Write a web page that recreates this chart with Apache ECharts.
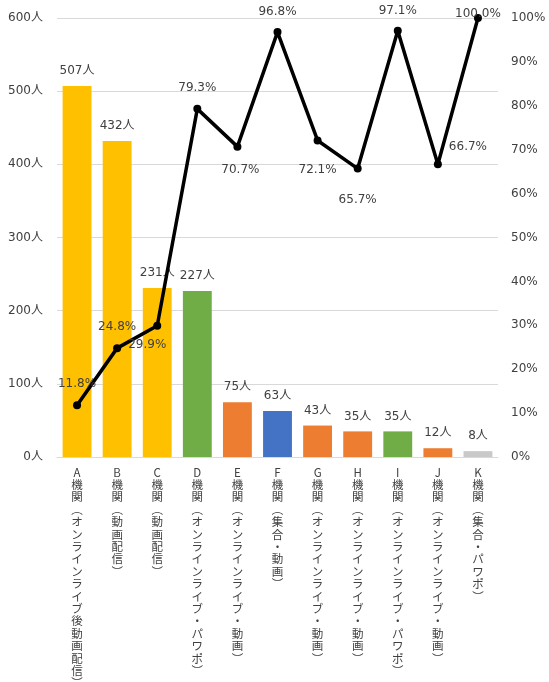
<!DOCTYPE html>
<html>
<head>
<meta charset="utf-8">
<script src="https://cdn.jsdelivr.net/npm/echarts@6/dist/echarts.min.js"></script>
<style>
  html, body { margin: 0; padding: 0; background: #fff; }
  #chart { width: 549px; height: 682px; }
</style>
</head>
<body>
<div id="chart"></div>
<script>
// 機関ごとの参加人数と割合
const categories = [
  'A機関（オンラインライブ後動画配信）',
  'B機関（動画配信）',
  'C機関（動画配信）',
  'D機関（オンラインライブ・パワポ）',
  'E機関（オンラインライブ・動画）',
  'F機関（集合・動画）',
  'G機関（オンラインライブ・動画）',
  'H機関（オンラインライブ・動画）',
  'I機関（オンラインライブ・パワポ）',
  'J機関（オンラインライブ・動画）',
  'K機関（集合・パワポ）'
];
const people = [507, 432, 231, 227, 75, 63, 43, 35, 35, 12, 8];
const rates = [11.8, 24.8, 29.9, 79.3, 70.7, 96.8, 72.1, 65.7, 97.1, 66.7, 100.0];
const leftTicks = [0, 100, 200, 300, 400, 500, 600];
const rightTicks = [0, 10, 20, 30, 40, 50, 60, 70, 80, 90, 100];

// 棒の色 (形式ごと)
const barColors = ['#FFC000', '#FFC000', '#FFC000', '#70AD47', '#ED7D31', '#4472C4',
  '#ED7D31', '#ED7D31', '#70AD47', '#ED7D31', '#C9C9C9'];
// 折れ線ラベルの位置
const rateLabelPos = [
  { position: 'top', offset: [0, -6] },
  { position: 'top', offset: [0, -6] },
  { position: 'bottom', offset: [-10, 4] },
  { position: 'top', offset: [0, -6] },
  { position: 'bottom', offset: [3, 8] },
  { position: 'top', offset: [0, -5] },
  { position: 'bottom', offset: [0, 14] },
  { position: 'bottom', offset: [0, 16] },
  { position: 'top', offset: [0, -5] },
  { position: 'right', offset: [2, -17] },
  { position: 'inside', offset: [0, -4] }
];

const FONT = '"DejaVu Sans", "Noto Sans CJK JP", sans-serif';
const TXT = '#404040';

function vertical(s) {
  return s.replace('（', '︵').replace('）', '︶').split('').join('\n');
}

const chart = echarts.init(document.getElementById('chart'), null, { renderer: 'canvas' });
chart.setOption({
  animation: false,
  textStyle: { fontFamily: FONT },
  grid: { left: 57, right: 51, top: 18, bottom: 225, containLabel: false, outerBoundsMode: 'none' },
  xAxis: {
    type: 'category',
    data: categories,
    axisLine: { lineStyle: { color: '#D9D9D9' } },
    axisTick: { show: false },
    axisLabel: {
      interval: 0,
      margin: 9,
      verticalAlign: 'top',
      fontSize: 11.5,
      lineHeight: 12.4,
      color: TXT,
      fontFamily: '"Noto Sans CJK JP", sans-serif',
      formatter: vertical
    }
  },
  yAxis: [
    {
      type: 'value',
      min: leftTicks[0],
      max: leftTicks[leftTicks.length - 1],
      interval: 100,
      axisLine: { show: false },
      axisTick: { show: false },
      splitLine: { lineStyle: { color: '#D9D9D9' } },
      axisLabel: { margin: 14, fontSize: 12, color: TXT, fontFamily: FONT, formatter: v => v + '人' }
    },
    {
      type: 'value',
      min: rightTicks[0],
      max: rightTicks[rightTicks.length - 1],
      interval: 10,
      axisLine: { show: false },
      axisTick: { show: false },
      splitLine: { show: false },
      axisLabel: { margin: 13, fontSize: 12, color: TXT, fontFamily: FONT, formatter: v => v + '%' }
    }
  ],
  series: [
    {
      type: 'bar',
      yAxisIndex: 0,
      barWidth: '72%',
      data: people.map((v, i) => ({ value: v, itemStyle: { color: barColors[i] } })),
      label: {
        show: true,
        position: 'top',
        distance: 9,
        fontSize: 12,
        color: TXT,
        fontFamily: FONT,
        formatter: p => p.value + '人'
      }
    },
    {
      type: 'line',
      yAxisIndex: 1,
      data: rates.map((v, i) => ({ value: v, label: rateLabelPos[i] })),
      lineStyle: { color: '#000', width: 3.5 },
      itemStyle: { color: '#000' },
      symbol: 'circle',
      symbolSize: 8,
      z: 5,
      label: {
        show: true,
        fontSize: 12,
        color: TXT,
        fontFamily: FONT,
        formatter: p => p.value.toFixed(1) + '%'
      }
    }
  ]
});
</script>
</body>
</html>
